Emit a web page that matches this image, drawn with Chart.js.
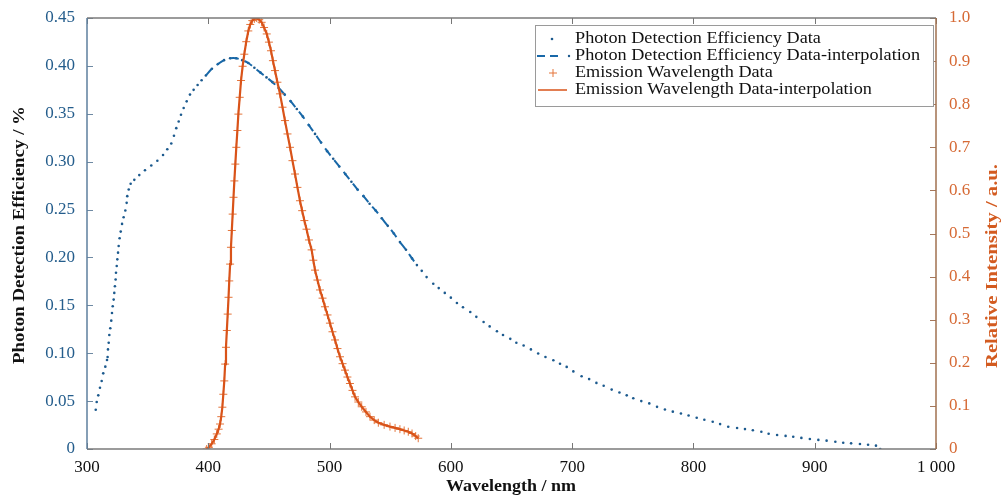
<!DOCTYPE html>
<html>
<head>
<meta charset="utf-8">
<script src="https://cdn.jsdelivr.net/npm/chart.js@4.4.0/dist/chart.umd.min.js"></script>
<style>
  html, body { margin: 0; background: #fff; }
  #wrap { width: 1002px; height: 496px; }
</style>
</head>
<body>
<div id="wrap"><canvas id="chartCanvas" width="1002" height="496"></canvas></div>
<script>
// wavelength (nm) / photon detection efficiency
const pdeWl = [
  307.2, 308.0, 309.3, 310.7, 312.1, 313.4, 315.1, 316.5, 317.0, 317.3, 317.9, 318.4, 319.2, 320.0, 320.6, 321.2,
  322.0, 322.5, 323.0, 323.6, 323.9, 324.5, 325.0, 325.6, 326.1, 326.9, 327.8, 328.9, 330.2, 331.6, 332.7, 333.2,
  334.4, 336.0, 339.0, 343.1, 347.8, 353.0, 358.0, 362.7, 366.2, 369.5, 371.7, 373.6, 375.6, 377.5, 379.7, 382.2,
  384.9, 387.9, 391.2, 394.5,
  398, 403, 408, 413, 418, 423, 428, 433, 438, 443, 448, 453, 458, 463, 468, 473, 478, 483, 488, 493, 498, 503,
  508, 513, 518, 523, 528, 533, 538, 543, 548, 553, 558, 563, 568, 572,
  576, 580, 585.5, 590, 595, 600, 605, 610, 616, 621, 627, 632, 638, 643, 649, 654, 660, 666, 672, 678, 684.5,
  690, 695.5, 701, 707.8, 714, 720, 726, 732.6, 739, 745, 750.4, 757, 763.6, 770, 776.5, 783, 789.7, 796, 802.7,
  809, 815.9, 822, 828.7, 836, 842.5, 849, 856, 862, 869, 876, 882.3, 889, 896, 903, 909.8, 917, 923.5, 930,
  937.3, 944, 950.5, 954
];
const pdeVal = [
  0.041, 0.049, 0.056, 0.064, 0.071, 0.079, 0.086, 0.093, 0.096, 0.104, 0.111, 0.119, 0.126, 0.134, 0.142, 0.149,
  0.156, 0.163, 0.170, 0.177, 0.184, 0.191, 0.198, 0.205, 0.212, 0.220, 0.227, 0.235, 0.242, 0.249, 0.257, 0.264,
  0.271, 0.277, 0.281, 0.286, 0.291, 0.296, 0.301, 0.307, 0.313, 0.319, 0.327, 0.335, 0.342, 0.349, 0.356, 0.363,
  0.370, 0.375, 0.380, 0.385,
  0.390, 0.397, 0.402, 0.406, 0.408, 0.408, 0.406, 0.403, 0.398, 0.393, 0.388, 0.383, 0.377, 0.370, 0.363, 0.355,
  0.347, 0.338, 0.329, 0.320, 0.311, 0.303, 0.295, 0.287, 0.279, 0.271, 0.264, 0.256, 0.249, 0.241, 0.233, 0.225,
  0.216, 0.208, 0.199, 0.192,
  0.186, 0.1795, 0.1726, 0.168, 0.163, 0.158, 0.1524, 0.148, 0.143, 0.138, 0.1326, 0.128, 0.123, 0.119, 0.115,
  0.111, 0.108, 0.104, 0.0997, 0.096, 0.0927, 0.089, 0.0857, 0.081, 0.076, 0.073, 0.069, 0.066, 0.062, 0.059,
  0.056, 0.053, 0.050, 0.0476, 0.044, 0.0413, 0.039, 0.0371, 0.035, 0.0326, 0.0305, 0.0285, 0.026, 0.0233, 0.022,
  0.0208, 0.0195, 0.018, 0.016, 0.0146, 0.0137, 0.0128, 0.0116, 0.0104, 0.0095, 0.0087, 0.0076, 0.0066, 0.0059,
  0.0052, 0.0044, 0.0035, 0.0
];
// range covered by the dashed interpolation
const interpFrom = 398;
const interpTo = 572;

// emission spectrum (relative intensity)
const emWl = [
  398.7, 400.5, 402.8, 405.0, 407.0, 408.5, 409.7, 410.7, 411.6, 412.4, 413.2, 413.9, 414.6, 415.3, 416.0, 416.7,
  417.3, 418.0, 418.7, 419.4, 420.1, 420.8, 421.5, 422.3, 423.1, 424.0, 424.8, 425.9, 427.0, 428.3, 429.7, 431.3,
  433.0, 434.6, 436.3, 438.0, 439.9, 442.0, 444.0, 446.0, 448.2, 450.0, 451.7, 453.3, 455.0, 457.0, 459.1, 461.2,
  463.2, 465.3, 467.4, 469.4, 471.5, 473.5, 475.6, 477.4, 479.2, 481.0, 483.0, 485.2, 486.6, 488.0, 490.0, 492.1,
  494.2, 496.2, 498.3, 500.3, 502.4, 504.5, 506.5, 508.6, 510.7, 512.7, 514.7, 516.8, 518.9, 521.0, 523.7, 526.5,
  530.0, 533.3, 536.8, 540.2, 545.0, 549.8, 554.0, 558.0, 561.5, 564.9, 568.0, 571.0, 573.1
];
const emVal = [
  0.0, 0.004, 0.012, 0.022, 0.035, 0.046, 0.058, 0.075, 0.097, 0.127, 0.158, 0.197, 0.236, 0.275, 0.313, 0.352,
  0.390, 0.429, 0.468, 0.507, 0.545, 0.584, 0.622, 0.661, 0.700, 0.739, 0.777, 0.816, 0.855, 0.888, 0.916, 0.945,
  0.970, 0.985, 0.994, 0.998, 1.000, 0.996, 0.990, 0.978, 0.963, 0.944, 0.924, 0.901, 0.878, 0.851, 0.824, 0.793,
  0.762, 0.731, 0.700, 0.669, 0.638, 0.607, 0.576, 0.553, 0.530, 0.510, 0.485, 0.462, 0.438, 0.415, 0.392, 0.369,
  0.350, 0.330, 0.311, 0.292, 0.272, 0.253, 0.233, 0.214, 0.198, 0.183, 0.167, 0.152, 0.136, 0.121, 0.109, 0.098,
  0.086, 0.075, 0.067, 0.061, 0.056, 0.052, 0.049, 0.046, 0.043, 0.040, 0.036, 0.030, 0.025
];

// axis ticks
const wlTicks = [300, 400, 500, 600, 700, 800, 900, 1000];
const wlTickLabels = ['300', '400', '500', '600', '700', '800', '900', '1 000'];
const pdeTicks = [0, 0.05, 0.10, 0.15, 0.20, 0.25, 0.30, 0.35, 0.40, 0.45];
const pdeTickLabels = ['0', '0.05', '0.10', '0.15', '0.20', '0.25', '0.30', '0.35', '0.40', '0.45'];
const intTicks = [0, 0.1, 0.2, 0.3, 0.4, 0.5, 0.6, 0.7, 0.8, 0.9, 1.0];
const intTickLabels = ['0', '0.1', '0.2', '0.3', '0.4', '0.5', '0.6', '0.7', '0.8', '0.9', '1.0'];

const legendLabels = [
  'Photon Detection Efficiency Data',
  'Photon Detection Efficiency Data-interpolation',
  'Emission Wavelength Data',
  'Emission Wavelength Data-interpolation'
];

const BLUE_DOT = '#1c5a8e';
const BLUE_DASH = '#1868a8';
const ORANGE = '#d95319';
const ORANGE_MARK = '#e4743a';
const SERIF = '"Liberation Serif", "Times New Roman", serif';

const pdePoints = pdeWl.map((w, i) => ({ x: w, y: pdeVal[i] }));
const pdeInterp = pdePoints.filter(p => p.x >= interpFrom && p.x <= interpTo);
const emPoints = emWl.map((w, i) => ({ x: w, y: emVal[i] }));

// text squeezed/stretched along its baseline to a given length
function fitText(ctx, text, x, y, len, angle) {
  const w = ctx.measureText(text).width;
  ctx.save();
  ctx.translate(x, y);
  ctx.rotate(angle);
  ctx.scale(len / w, 1);
  ctx.fillText(text, 0, 0);
  ctx.restore();
}

// keep the plot box fixed: no extra room for edge labels
function fixBox(size) {
  return s => {
    if (s.isHorizontal()) s.height = size; else s.width = size;
    s.paddingTop = 0; s.paddingBottom = 0; s.paddingLeft = 0; s.paddingRight = 0;
  };
}

// MATLAB-like box: inward ticks, frame, titles and legend
const decorations = {
  id: 'decorations',
  afterDraw(chart) {
    const { ctx, chartArea: a, scales } = chart;
    const tl = 6;
    ctx.save();
    ctx.lineWidth = 1;

    ctx.strokeStyle = '#777';
    wlTicks.forEach(v => {
      const x = Math.round(scales.x.getPixelForValue(v)) + 0.5;
      ctx.beginPath();
      ctx.moveTo(x, a.bottom); ctx.lineTo(x, a.bottom - tl);
      ctx.moveTo(x, a.top); ctx.lineTo(x, a.top + tl);
      ctx.stroke();
    });
    ctx.strokeStyle = '#6f8aa3';
    pdeTicks.forEach(v => {
      const y = Math.round(scales.y.getPixelForValue(v)) + 0.5;
      ctx.beginPath(); ctx.moveTo(a.left, y); ctx.lineTo(a.left + tl, y); ctx.stroke();
    });
    ctx.strokeStyle = '#a5785c';
    intTicks.forEach(v => {
      const y = Math.round(scales.y2.getPixelForValue(v)) + 0.5;
      ctx.beginPath(); ctx.moveTo(a.right, y); ctx.lineTo(a.right - tl, y); ctx.stroke();
    });

    // frame
    ctx.lineWidth = 1.5;
    ctx.strokeStyle = '#7a7a7a';
    ctx.beginPath(); ctx.moveTo(a.left, a.top); ctx.lineTo(a.right, a.top); ctx.stroke();
    ctx.beginPath(); ctx.moveTo(a.left, a.bottom); ctx.lineTo(a.right, a.bottom); ctx.stroke();
    ctx.strokeStyle = '#5e7f9e';
    ctx.beginPath(); ctx.moveTo(a.left, a.top); ctx.lineTo(a.left, a.bottom); ctx.stroke();
    ctx.strokeStyle = '#a0704f';
    ctx.beginPath(); ctx.moveTo(a.right, a.top); ctx.lineTo(a.right, a.bottom); ctx.stroke();

    // axis titles
    ctx.font = 'bold 16px ' + SERIF;
    ctx.textAlign = 'center';
    ctx.textBaseline = 'middle';
    ctx.fillStyle = '#111';
    fitText(ctx, 'Wavelength / nm', 511, 487, 130, 0);
    fitText(ctx, 'Photon Detection Efficiency / %', 20, 235, 258, -Math.PI / 2);
    ctx.fillStyle = '#d35b20';
    fitText(ctx, 'Relative Intensity / a.u.', 993, 266, 204, -Math.PI / 2);

    // legend
    const bx = 535, by = 25, bw = 398, bh = 81;
    ctx.fillStyle = '#fff';
    ctx.fillRect(bx, by, bw, bh);
    ctx.lineWidth = 1;
    ctx.strokeStyle = '#9a9a9a';
    ctx.strokeRect(bx + 0.5, by + 0.5, bw, bh);
    const rows = [39, 56, 73, 90];
    ctx.font = '16px ' + SERIF;
    ctx.textAlign = 'left';
    ctx.fillStyle = '#111';
    const sx = 345 / ctx.measureText(legendLabels[1]).width;
    legendLabels.forEach((t, i) => {
      ctx.save();
      ctx.translate(575, rows[i]);
      ctx.scale(sx, 1);
      ctx.fillText(t, 0, 0);
      ctx.restore();
    });
    // symbols
    ctx.fillStyle = BLUE_DOT;
    ctx.beginPath(); ctx.arc(552, rows[0], 1.3, 0, Math.PI * 2); ctx.fill();
    ctx.strokeStyle = BLUE_DASH;
    ctx.lineWidth = 2;
    ctx.setLineDash([8, 5]);
    ctx.beginPath(); ctx.moveTo(537, rows[1]); ctx.lineTo(563, rows[1]); ctx.stroke();
    ctx.setLineDash([]);
    ctx.beginPath(); ctx.arc(569, rows[1], 1.2, 0, Math.PI * 2); ctx.fill();
    ctx.strokeStyle = ORANGE_MARK;
    ctx.lineWidth = 1;
    ctx.beginPath();
    ctx.moveTo(549, rows[2]); ctx.lineTo(557, rows[2]);
    ctx.moveTo(553, rows[2] - 4); ctx.lineTo(553, rows[2] + 4);
    ctx.stroke();
    ctx.strokeStyle = ORANGE;
    ctx.lineWidth = 1.5;
    ctx.beginPath(); ctx.moveTo(538, rows[3]); ctx.lineTo(567, rows[3]); ctx.stroke();
    ctx.restore();
  }
};

const tickFont = { family: SERIF, size: 17 };

const ctx = document.getElementById('chartCanvas').getContext('2d');
const chart = new Chart(ctx, {
  type: 'scatter',
  data: {
    datasets: [
      {
        label: legendLabels[0],
        data: pdePoints,
        yAxisID: 'y',
        showLine: false,
        pointStyle: 'circle',
        pointRadius: 1.3,
        pointBackgroundColor: BLUE_DOT,
        pointBorderWidth: 0,
        order: 3
      },
      {
        label: legendLabels[1],
        data: pdeInterp,
        yAxisID: 'y',
        showLine: true,
        borderColor: BLUE_DASH,
        borderWidth: 2,
        borderDash: [9, 6],
        pointRadius: 0,
        tension: 0.3,
        order: 2
      },
      {
        label: legendLabels[2],
        data: emPoints,
        yAxisID: 'y2',
        showLine: false,
        pointStyle: 'cross',
        pointRadius: 4,
        pointBorderColor: ORANGE_MARK,
        pointBorderWidth: 1,
        order: 1
      },
      {
        label: legendLabels[3],
        data: emPoints,
        yAxisID: 'y2',
        showLine: true,
        borderColor: ORANGE,
        borderWidth: 2.2,
        pointRadius: 0,
        order: 0
      }
    ]
  },
  options: {
    responsive: false,
    animation: false,
    devicePixelRatio: 1,
    layout: { padding: { top: 18, left: 0, right: 0, bottom: 0 } },
    plugins: {
      legend: { display: false },
      tooltip: { enabled: false }
    },
    scales: {
      x: {
        type: 'linear',
        position: 'bottom',
        min: 300,
        max: 1000,
        afterBuildTicks: s => { s.ticks = wlTicks.map(v => ({ value: v })); },
        afterFit: fixBox(47),
        grid: { display: false, drawTicks: false },
        border: { display: false },
        ticks: {
          autoSkip: false, maxRotation: 0, padding: 8, color: '#111', font: tickFont,
          callback: (v, i) => wlTickLabels[i]
        }
      },
      y: {
        type: 'linear',
        position: 'left',
        min: 0,
        max: 0.45,
        afterBuildTicks: s => { s.ticks = pdeTicks.map(v => ({ value: v })); },
        afterFit: fixBox(87),
        grid: { display: false, drawTicks: false },
        border: { display: false },
        ticks: {
          autoSkip: false, padding: 12, color: '#245d8c', font: tickFont,
          callback: (v, i) => pdeTickLabels[i]
        }
      },
      y2: {
        type: 'linear',
        position: 'right',
        min: 0,
        max: 1,
        afterBuildTicks: s => { s.ticks = intTicks.map(v => ({ value: v })); },
        afterFit: fixBox(66),
        grid: { display: false, drawTicks: false },
        border: { display: false },
        ticks: {
          autoSkip: false, padding: 13, color: '#d66a35', font: tickFont,
          callback: (v, i) => intTickLabels[i]
        }
      }
    }
  },
  plugins: [decorations]
});
</script>
</body>
</html>
